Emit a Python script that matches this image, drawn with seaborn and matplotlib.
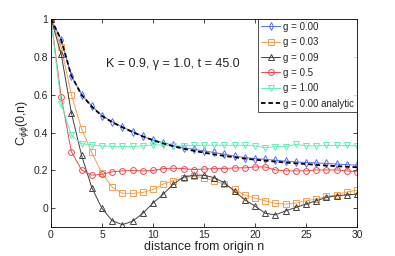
import numpy as np
import pandas as pd
import matplotlib
matplotlib.use("Agg")
import matplotlib.pyplot as plt
import seaborn as sns

n = list(range(31))

c_g000 = [1, 0.89, 0.70, 0.60, 0.54, 0.49, 0.457, 0.43, 0.405, 0.38, 0.36, 0.347, 0.332,
          0.32, 0.312, 0.303, 0.295, 0.286, 0.276, 0.268, 0.263, 0.259, 0.254, 0.25, 0.245,
          0.242, 0.24, 0.237, 0.234, 0.231, 0.228]
c_g003 = [1, 0.85, 0.60, 0.42, 0.295, 0.185, 0.112, 0.08, 0.079, 0.084, 0.10, 0.128, 0.147,
          0.16, 0.17, 0.162, 0.145, 0.127, 0.10, 0.07, 0.054, 0.04, 0.026, 0.023, 0.028,
          0.04, 0.049, 0.063, 0.072, 0.087, 0.096]
c_g009 = [1, 0.815, 0.505, 0.28, 0.11, 0.0, -0.065, -0.086, -0.068, -0.026, 0.028, 0.075,
          0.128, 0.166, 0.175, 0.175, 0.162, 0.135, 0.09, 0.045, 0.012, -0.026, -0.034,
          -0.013, 0.005, 0.023, 0.04, 0.058, 0.066, 0.072, 0.075]
c_g050 = [1, 0.59, 0.30, 0.203, 0.175, 0.18, 0.193, 0.198, 0.20, 0.198, 0.20, 0.21, 0.212,
          0.21, 0.205, 0.207, 0.21, 0.21, 0.214, 0.214, 0.219, 0.219, 0.203, 0.198, 0.198,
          0.198, 0.203, 0.203, 0.203, 0.198, 0.193]
c_g100 = [1, 0.553, 0.386, 0.342, 0.335, 0.33, 0.327, 0.327, 0.327, 0.33, 0.335, 0.335, 0.33,
          0.33, 0.332, 0.333, 0.333, 0.333, 0.333, 0.333, 0.33, 0.32, 0.326, 0.326, 0.338,
          0.33, 0.33, 0.332, 0.332, 0.332, 0.33]
c_analytic = [1, 0.89, 0.70, 0.60, 0.537, 0.488, 0.455, 0.428, 0.403, 0.38, 0.36, 0.343,
              0.328, 0.315, 0.304, 0.294, 0.285, 0.277, 0.27, 0.263, 0.257, 0.252, 0.247,
              0.242, 0.238, 0.234, 0.23, 0.226, 0.223, 0.22, 0.217]

labels = ["g = 0.00", "g = 0.03", "g = 0.09", "g = 0.5", "g = 1.00"]
series = [c_g000, c_g003, c_g009, c_g050, c_g100]
colors = ["#5a6cf2", "#f0a050", "#404040", "#f04848", "#5ff0b4"]
markers = ["d", "s", "^", "o", "v"]
xticks = [0, 5, 10, 15, 20, 25, 30]
yticks = [0, 0.2, 0.4, 0.6, 0.8, 1]
ytick_labels = ["0", "0.2", "0.4", "0.6", "0.8", "1"]

sns.set_style("white")
plt.rcParams['font.family'] = ['Liberation Sans', 'DejaVu Sans']
plt.rcParams['mathtext.fontset'] = 'custom'
plt.rcParams['mathtext.rm'] = 'Liberation Sans'
plt.rcParams['mathtext.it'] = 'Liberation Sans:italic'

fig = plt.figure(figsize=(3.95, 2.56), dpi=100)
ax = fig.add_axes([0.129, 0.112, 0.775, 0.814])

for lab, ys, col, mk in zip(labels, series, colors, markers):
    df = pd.DataFrame({"n": n, "C": ys})
    sns.lineplot(data=df, x="n", y="C", ax=ax, color=col, marker=mk, markersize=4.2,
                 markerfacecolor="none", markeredgecolor=col, markeredgewidth=0.7,
                 linewidth=0.7, label=lab)

dfa = pd.DataFrame({"n": n, "C": c_analytic})
sns.lineplot(data=dfa, x="n", y="C", ax=ax, color="black", linestyle=(0, (2.5, 1.6)),
             linewidth=1.3, label="g = 0.00 analytic")

ax.set_xlim(0, 30)
ax.set_ylim(-0.1, 1)
ax.set_xticks(xticks)
ax.set_xticklabels([str(t) for t in xticks])
ax.set_yticks(yticks)
ax.set_yticklabels(ytick_labels)
ax.tick_params(direction="in", length=3, width=0.6, labelsize=7.5, top=True, right=True,
               bottom=True, left=True, pad=2)
for s in ax.spines.values():
    s.set_linewidth(0.6)
    s.set_color("black")

ax.set_xlabel("distance from origin n", fontsize=9, labelpad=1)
ax.set_ylabel(r"C$_{\phi\phi}$(0,n)", fontsize=9, labelpad=2)

ax.text(11.9, 0.76, "K = 0.9, γ = 1.0, t = 45.0", fontsize=9, ha="center", va="center")

leg = ax.legend(loc="upper right", fontsize=7, frameon=True, fancybox=False,
                borderaxespad=0, handlelength=2.0, handletextpad=0.3, labelspacing=0.55,
                borderpad=0.3)
leg.get_frame().set_edgecolor("black")
leg.get_frame().set_linewidth(0.6)

fig.savefig("out.png", dpi=100)
